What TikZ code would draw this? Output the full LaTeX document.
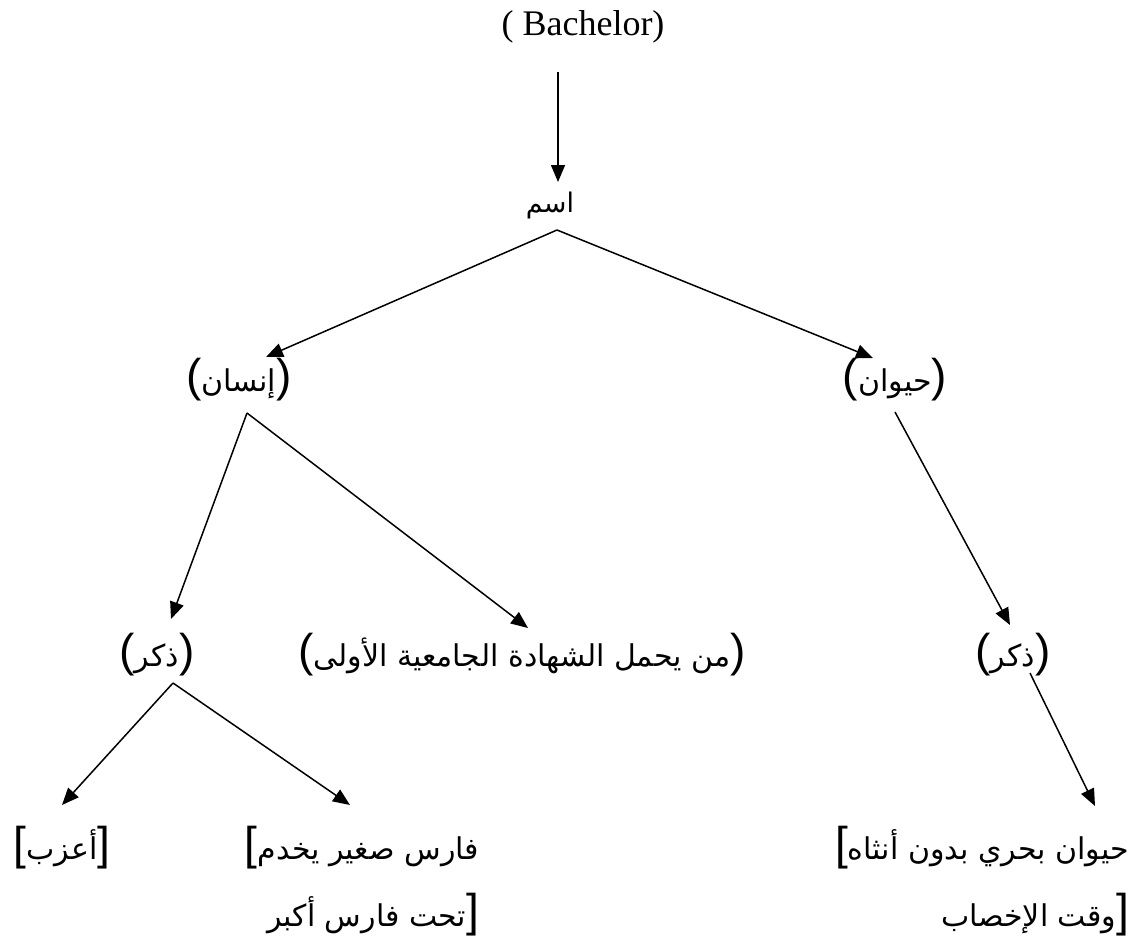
\documentclass[tikz,border=0pt]{standalone}
\usepackage{fontspec}
\setmainfont{Liberation Serif}
\newfontfamily\arabicfont[Script=Arabic]{DejaVu Sans}
\newfontfamily\punctfont{Liberation Sans}
\TeXXeTstate=1
\usetikzlibrary{arrows.meta,calc}
\newcommand{\arf}{\arabicfont\fontsize{30}{36}\selectfont}
\newcommand{\arfs}{\arabicfont\fontsize{27}{32}\selectfont}
\newcommand{\pp}[1]{{\punctfont\fontsize{46}{50}\selectfont #1}}
\tikzset{
  lbl/.style={inner sep=0pt, outer sep=0pt},
  arr/.style={line width=1.5pt, -{Triangle[length=17pt,width=14pt]}},
}
\begin{document}
\begin{tikzpicture}[x=1pt,y=-1pt]
\useasboundingbox[fill=white] (0,0) rectangle (1145,946);
% nodes
\node[lbl, font=\fontsize{36}{42}\selectfont] (bach) at (583,27) {( Bachelor)};
\node[lbl] (ism) at (550,205) {{\arfs\beginR اسم\endR}};
\node[lbl] (insan) at (239,380) {\pp{(}{\arf\beginR إنسان\endR}\pp{)}};
\node[lbl] (hayawan) at (895,380) {\pp{(}{\arf\beginR حيوان\endR}\pp{)}};
\node[lbl] (dhakarA) at (157,655) {\pp{(}{\arf\beginR ذكر\endR}\pp{)}};
\node[lbl] (man) at (522,655) {\pp{(}{\arf\beginR من يحمل الشهادة الجامعية الأولى\endR}\pp{)}};
\node[lbl] (dhakarB) at (1013,655) {\pp{(}{\arf\beginR ذكر\endR}\pp{)}};
\node[lbl] (azab) at (62,848) {\pp{[}{\arf\beginR أعزب\endR}\pp{]}};
\node[lbl, anchor=east] (farisA) at (479,848) {\pp{[}{\arf\beginR فارس صغير يخدم\endR}};
\node[lbl, anchor=east] (farisB) at (479,915) {{\arf\beginR تحت فارس أكبر\endR}\pp{]}};
\node[lbl, anchor=east] (bahrA) at (1129,848) {\pp{[}{\arf\beginR حيوان بحري بدون أنثاه\endR}};
\node[lbl, anchor=east] (bahrB) at (1129,915) {{\arf\beginR وقت الإخصاب\endR}\pp{]}};
% connectors
\draw[arr] ($(bach)+(-25,45)$) -- ($(ism)+(8,-23)$);
\draw[arr] ($(ism)+(7,25)$) -- ($(insan)+(27,-23)$);
\draw[arr] ($(ism)+(7,25)$) -- ($(hayawan)+(-22,-22)$);
\draw[arr] ($(insan)+(8,33)$) -- ($(dhakarA)+(14,-36)$);
\draw[arr] ($(insan)+(8,33)$) -- ($(man)+(6,-27)$);
\draw[arr] ($(hayawan)+(0,32)$) -- ($(dhakarB)+(-3,-30)$);
\draw[arr] ($(dhakarA)+(16,28)$) -- ($(azab)+(0,-43)$);
\draw[arr] ($(dhakarA)+(16,28)$) -- ($(farisA.east)+(-129,-43)$);
\draw[arr] ($(dhakarB)+(17,18)$) -- ($(bahrA.east)+(-34,-42)$);
\end{tikzpicture}
\end{document}
